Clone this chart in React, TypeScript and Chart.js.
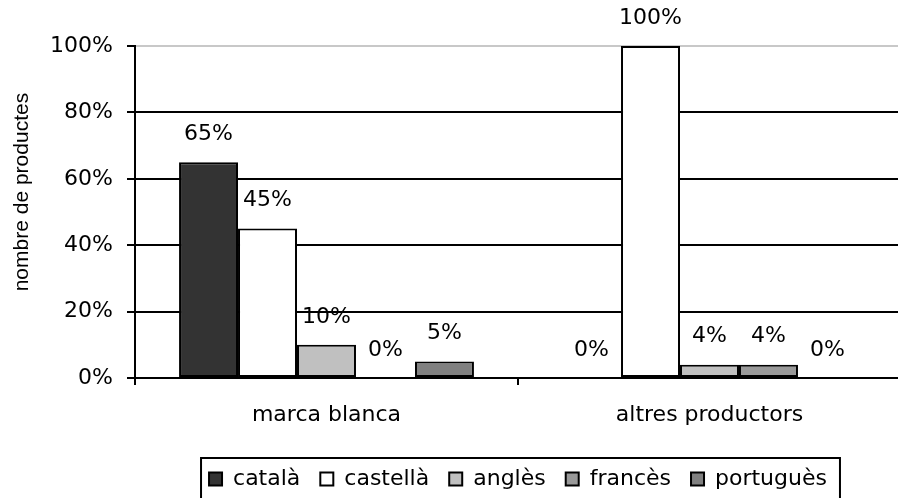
import React, { useEffect, useRef } from 'react';
import { Chart, registerables } from 'chart.js';

Chart.register(...registerables);

const categories = ['marca blanca', 'altres productors'];
const seriesNames = ['català', 'castellà', 'anglès', 'francès', 'portuguès'];
const catala = [65, 0];
const castella = [45, 100];
const angles = [10, 4];
const frances = [0, 4];
const portugues = [5, 0];
const yTickValues = [0, 20, 40, 60, 80, 100];
const yTitle = 'nombre de productes';

const seriesValues = [catala, castella, angles, frances, portugues];
const seriesColors = ['#333333', '#ffffff', '#c0c0c0', '#999999', '#808080'];

const FONT = '"DejaVu Sans", "Liberation Sans", Arial, sans-serif';
const TITLE_FONT = '"Liberation Sans", Arial, sans-serif';

const barLabelPlugin = {
  id: 'barLabels',
  afterDatasetsDraw(chart: any) {
    const ctx = chart.ctx;
    ctx.save();
    ctx.font = `22px ${FONT}`;
    ctx.fillStyle = '#000';
    ctx.textAlign = 'center';
    ctx.textBaseline = 'middle';
    chart.data.datasets.forEach((ds: any, i: number) => {
      const meta = chart.getDatasetMeta(i);
      meta.data.forEach((el: any, j: number) => {
        ctx.fillText(`${ds.data[j]}%`, el.x, el.y - 28);
      });
    });
    ctx.restore();
  },
};

const yTitlePlugin = {
  id: 'yTitle',
  afterDraw(chart: any) {
    const ctx = chart.ctx;
    const area = chart.chartArea;
    ctx.save();
    ctx.translate(22, area.top + (area.bottom - area.top) * 0.44);
    ctx.rotate(-Math.PI / 2);
    ctx.font = `21px ${TITLE_FONT}`;
    ctx.fillStyle = '#000';
    ctx.textAlign = 'center';
    ctx.textBaseline = 'middle';
    ctx.fillText(yTitle, 0, 0);
    ctx.restore();
  },
};

const legendBoxPlugin = {
  id: 'legendBox',
  afterDraw(chart: any) {
    const lg = chart.legend;
    if (!lg || !lg.legendHitBoxes || !lg.legendHitBoxes.length) return;
    const hb = lg.legendHitBoxes;
    const first = hb[0];
    const last = hb[hb.length - 1];
    const left = first.left - 8;
    const right = last.left + last.width + 13;
    const center = first.top + first.height / 2;
    const top = center - 21;
    const ctx = chart.ctx;
    ctx.save();
    ctx.strokeStyle = '#000';
    ctx.lineWidth = 2;
    ctx.strokeRect(left, top, right - left, 80);
    ctx.restore();
  },
};

export default function App() {
  const ref = useRef<HTMLCanvasElement | null>(null);

  useEffect(() => {
    if (!ref.current) return;
    const chart = new Chart(ref.current, {
      type: 'bar',
      data: {
        labels: categories,
        datasets: seriesNames.map((name, i) => ({
          label: name,
          data: seriesValues[i],
          backgroundColor: seriesColors[i],
          borderColor: '#000',
          borderWidth: 2,
          borderSkipped: false,
          categoryPercentage: 0.77,
          barPercentage: 1,
        })),
      },
      options: {
        animation: false,
        responsive: true,
        maintainAspectRatio: false,
        layout: { padding: { top: 46, right: 3, left: 0, bottom: -2 } },
        plugins: {
          tooltip: { enabled: false },
          legend: {
            position: 'bottom',
            fullSize: false,
            labels: {
              color: '#000',
              font: { family: FONT, size: 22 },
              boxWidth: 13,
              boxHeight: 13,
              padding: 20,
            },
          },
        },
        scales: {
          x: {
            offset: true,
            afterFit: (s: any) => {
              s.height = 70;
            },
            grid: {
              offset: true,
              drawOnChartArea: false,
              drawTicks: true,
              tickLength: 7,
              tickColor: '#000',
              tickWidth: 2,
              lineWidth: 2,
              color: '#000',
            },
            border: { display: true, color: '#000', width: 2 },
            ticks: {
              color: '#000',
              font: { family: FONT, size: 22 },
              padding: 17,
              maxRotation: 0,
            },
          },
          y: {
            min: 0,
            max: 100,
            afterFit: (s: any) => {
              s.width = 135;
            },
            afterBuildTicks: (s: any) => {
              s.ticks = yTickValues.map((v) => ({ value: v }));
            },
            grid: {
              color: (c: any) => (c.tick && c.tick.value === 100 ? '#c8c8c8' : '#000'),
              lineWidth: 2,
              tickLength: 8,
              tickColor: '#000',
              tickWidth: 2,
            },
            border: { display: true, color: '#000', width: 2 },
            ticks: {
              color: '#000',
              font: { family: FONT, size: 22 },
              padding: 14,
              callback: (v: any) => `${v}%`,
            },
          },
        },
      },
      plugins: [barLabelPlugin, yTitlePlugin, legendBoxPlugin],
    } as any);
    return () => chart.destroy();
  }, []);

  return (
    <div
      style={{
        position: 'fixed',
        left: 0,
        top: 0,
        width: 898,
        height: 498,
        overflow: 'hidden',
        background: '#fff',
      }}
    >
      <div style={{ position: 'relative', width: 904, height: 498 }}>
        <canvas ref={ref} />
      </div>
    </div>
  );
}
